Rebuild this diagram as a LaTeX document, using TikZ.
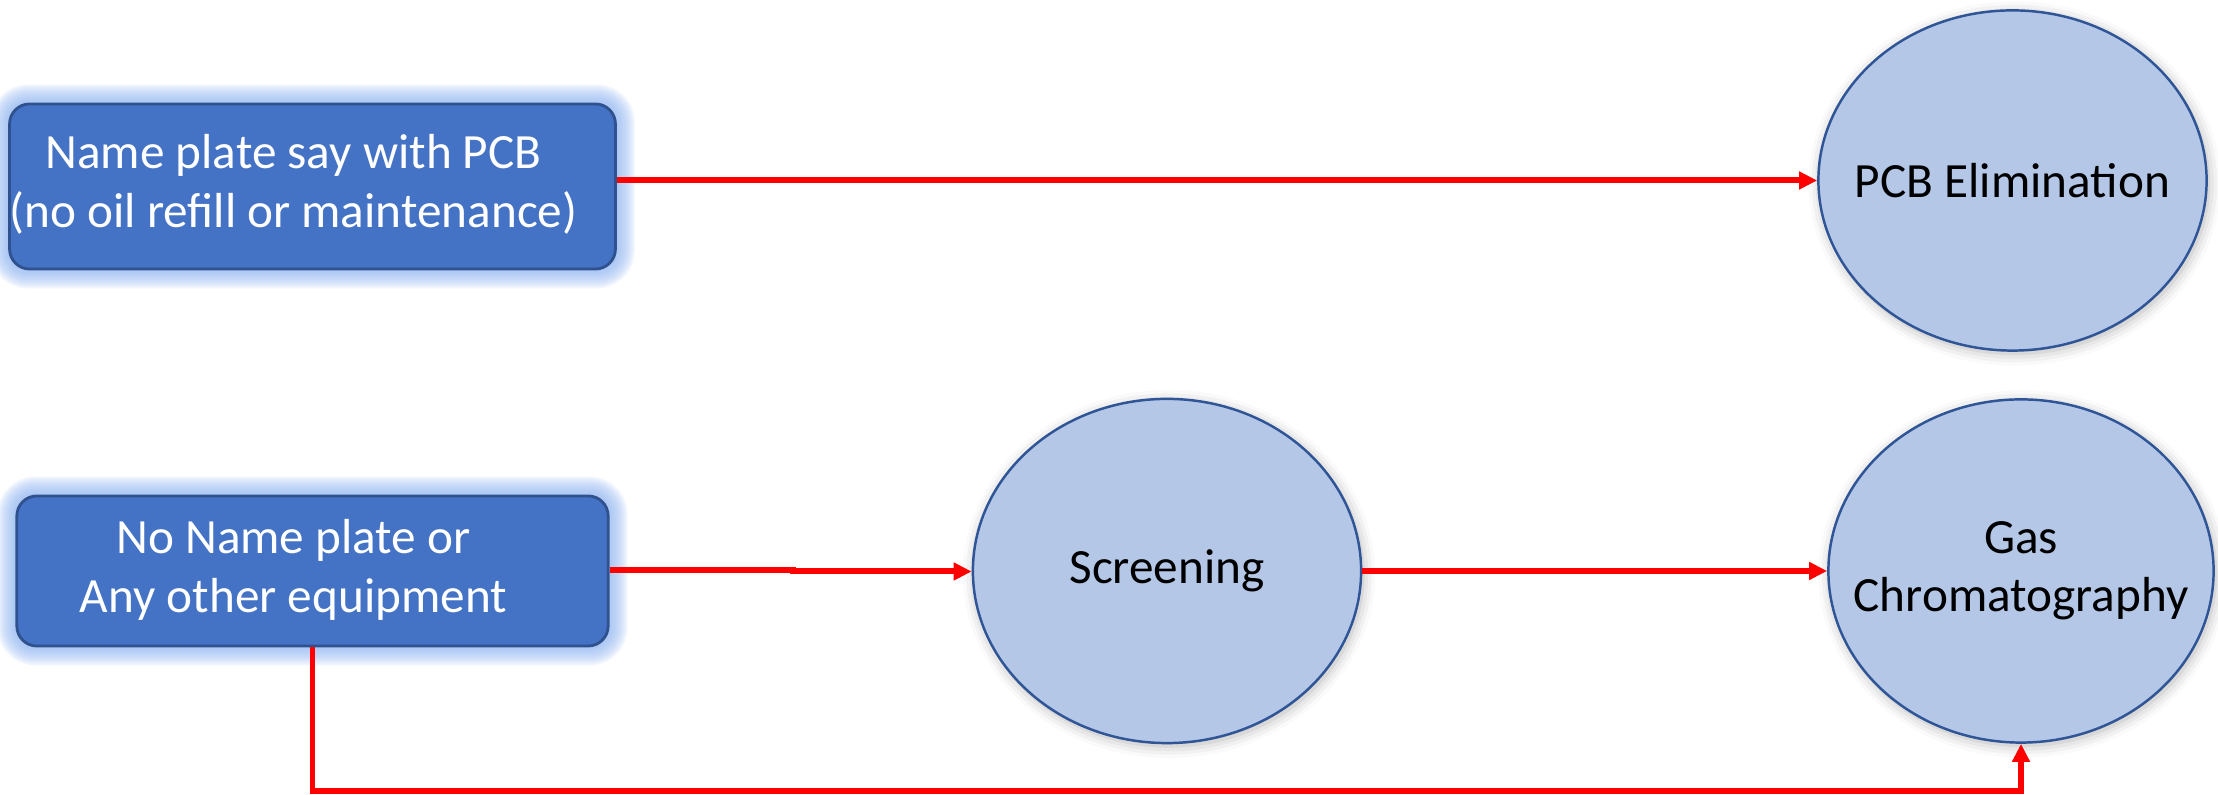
\documentclass[tikz,border=0pt]{standalone}
\usepackage{fontspec}
\setmainfont{Carlito}
\usetikzlibrary{arrows.meta,shapes.geometric,backgrounds,shadows.blur}
\definecolor{boxfill}{HTML}{4472C4}
\definecolor{boxline}{HTML}{2F528F}
\definecolor{glowc}{HTML}{8FB4F0}
\definecolor{ellfill}{HTML}{B4C7E7}
\definecolor{ellline}{HTML}{2F5597}
\definecolor{arrred}{HTML}{FF0000}
\begin{document}
\begin{tikzpicture}[x=0.01cm,y=0.01cm,
  boxnode/.style={draw=boxline, line width=0.8pt, fill=boxfill, rounded corners=0.2cm,
    text=white, inner sep=0pt, minimum width=5.91cm, font=\fontsize{14pt}{16.8pt}\selectfont},
  ellnode/.style={ellipse, draw=ellline, line width=0.7pt, fill=ellfill, inner xsep=-0.6cm, inner ysep=-0.3cm,
    align=center, font=\fontsize{14pt}{16.4pt}\selectfont,
    blur shadow={shadow xshift=0.02cm, shadow yshift=-0.03cm, shadow blur radius=0.12cm, shadow opacity=30}},
  arr/.style={draw=arrred, line width=1.7pt, -{Triangle[length=0.18cm,width=0.17cm]}}]
\useasboundingbox (0,0) rectangle (2218,795);

% boxes
\node[boxnode, minimum height=1.65cm] (b1) at (312.5,608.5)
  {\raisebox{0.05cm}{\begin{tabular}{@{}c@{\hspace{0.38cm}}}Name plate say with PCB\\(no oil refill or maintenance)\end{tabular}}};
\node[boxnode, minimum height=1.50cm] (b2) at (312.5,224)
  {\raisebox{-0.03cm}{\begin{tabular}{@{}c@{\hspace{0.38cm}}}No Name plate or\\Any other equipment\end{tabular}}};

% ellipses
\node[ellnode, minimum width=3.88cm, minimum height=3.40cm] (pcb) at (2012.5,614.5) {PCB Elimination};
\node[ellnode, minimum width=3.88cm, minimum height=3.44cm] (scr) at (1167,224) {Screening};
\node[ellnode, minimum width=3.85cm, minimum height=3.43cm] (gc) at (2021,224) {Gas\\Chromatography};

% glow behind boxes
\begin{scope}[on background layer]
  \foreach \n in {b1,b2}{
    \foreach \i in {1,...,9}{
      \pgfmathsetmacro{\rr}{5.7+0.57*\i}
      \fill[glowc, opacity=0.13, rounded corners=\rr pt]
        ([shift={(-2*\i,-2*\i)}]\n.south west) rectangle ([shift={(2*\i,2*\i)}]\n.north east);
    }
  }
\end{scope}

% connectors
\coordinate (k1) at (793,225);
\coordinate (k2) at (793,223.5);
\coordinate (bot) at (0,4);
\draw[arr] (b1.east |- pcb.west) -- (pcb.west);
\draw[arr] (b2.east |- k1) -- (k1) -- (k2) -- (scr.west |- k2);
\draw[arr] (scr.east) -- (gc.west);
\draw[arr] (b2.south) -- (b2.south |- bot) -| (gc.south);
\end{tikzpicture}
\end{document}
